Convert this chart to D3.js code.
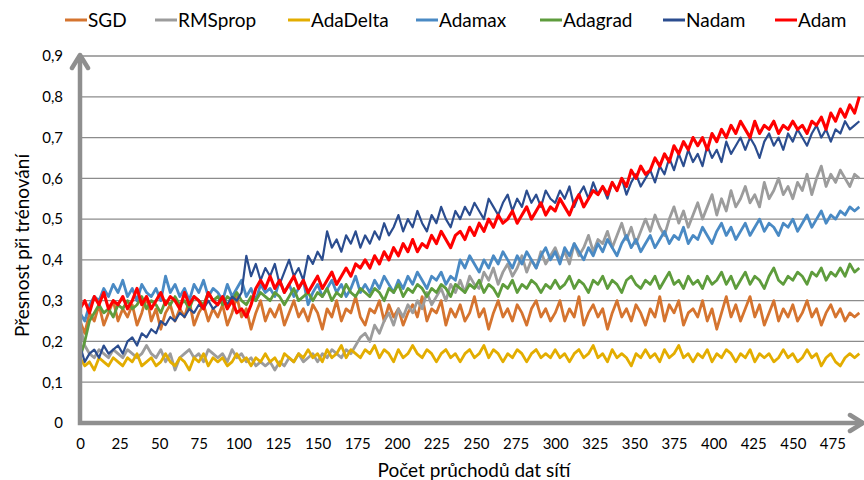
<!DOCTYPE html>
<html>
<head>
<meta charset="utf-8">
<script src="https://cdnjs.cloudflare.com/ajax/libs/d3/7.8.5/d3.min.js"></script>
<style>
  body { margin: 0; background: #fff; }
</style>
</head>
<body>
<div id="chart"></div>
<script>
const WIDTH = 864;
const HEIGHT = 480;
const FONT = "Lato, 'Open Sans', sans-serif";
const STEP = 3; // epochs between two stored values
const AXIS_GREY = "#8f8f8f";

const NAMES = ["SGD", "RMSprop", "AdaDelta", "Adamax", "Adagrad", "Nadam", "Adam"];
const COLORS = ["#d5742f", "#9c9c9c", "#e3ad00", "#4a8ac4", "#5e9c3c", "#2b4d8f", "#ff0000"];
const WIDTHS = [2.8, 2.8, 2.8, 2.8, 2.8, 2.2, 3.1];
const LEGEND_X = [65, 155, 288, 416, 540, 663, 775];

const X_TICKS = [0, 25, 50, 75, 100, 125, 150, 175, 200, 225, 250, 275, 300, 325, 350, 375, 400, 425, 450, 475];
const Y_TICKS = [0, 0.1, 0.2, 0.3, 0.4, 0.5, 0.6, 0.7, 0.8, 0.9];
const Y_LABELS = ["0", "0,1", "0,2", "0,3", "0,4", "0,5", "0,6", "0,7", "0,8", "0,9"];

// accuracy every 3 epochs (0, 3, ... 492)
const SGD = [
  0.25,0.22,0.27,0.25,0.29,0.24,0.27,0.30,0.25,0.28,
  0.26,0.29,0.24,0.27,0.31,0.25,0.28,0.23,0.27,0.29,
  0.25,0.28,0.26,0.30,0.24,0.27,0.29,0.25,0.28,0.26,
  0.29,0.24,0.27,0.31,0.26,0.28,0.23,0.27,0.30,0.25,
  0.28,0.26,0.29,0.24,0.27,0.30,0.26,0.28,0.25,0.29,
  0.27,0.23,0.28,0.26,0.30,0.25,0.28,0.27,0.31,0.26,
  0.24,0.28,0.27,0.30,0.25,0.29,0.26,0.28,0.24,0.27,
  0.29,0.26,0.31,0.25,0.28,0.27,0.30,0.24,0.28,0.26,
  0.29,0.25,0.27,0.31,0.26,0.28,0.23,0.27,0.30,0.26,
  0.28,0.25,0.29,0.27,0.24,0.28,0.30,0.26,0.28,0.25,
  0.27,0.30,0.25,0.28,0.26,0.31,0.24,0.27,0.29,0.26,
  0.28,0.23,0.27,0.30,0.26,0.28,0.25,0.29,0.27,0.24,
  0.28,0.26,0.31,0.25,0.29,0.27,0.30,0.24,0.27,0.28,
  0.26,0.30,0.25,0.28,0.23,0.27,0.31,0.26,0.29,0.25,
  0.28,0.31,0.26,0.29,0.24,0.27,0.30,0.25,0.28,0.26,
  0.29,0.25,0.27,0.30,0.26,0.28,0.24,0.27,0.29,0.26,
  0.28,0.25,0.27,0.26,0.27
];
const RMSPROP = [
  0.24,0.19,0.17,0.16,0.18,0.17,0.16,0.18,0.17,0.16,
  0.18,0.17,0.16,0.17,0.19,0.17,0.16,0.18,0.15,0.17,
  0.13,0.16,0.17,0.18,0.16,0.17,0.15,0.18,0.17,0.16,
  0.17,0.15,0.18,0.16,0.17,0.15,0.16,0.14,0.15,0.14,
  0.15,0.13,0.15,0.14,0.16,0.15,0.17,0.15,0.16,0.17,
  0.15,0.17,0.16,0.18,0.17,0.16,0.18,0.17,0.19,0.21,
  0.22,0.20,0.24,0.22,0.25,0.27,0.24,0.28,0.26,0.29,
  0.27,0.30,0.28,0.32,0.29,0.31,0.33,0.30,0.34,0.32,
  0.35,0.32,0.36,0.34,0.33,0.37,0.35,0.38,0.34,0.37,
  0.39,0.36,0.38,0.41,0.37,0.40,0.38,0.42,0.39,0.41,
  0.43,0.40,0.42,0.39,0.44,0.41,0.43,0.46,0.42,0.45,
  0.44,0.47,0.43,0.46,0.49,0.45,0.48,0.44,0.47,0.50,
  0.47,0.51,0.48,0.46,0.50,0.53,0.49,0.52,0.48,0.51,
  0.54,0.50,0.53,0.56,0.51,0.55,0.52,0.57,0.53,0.55,
  0.58,0.54,0.56,0.53,0.59,0.55,0.57,0.60,0.56,0.58,
  0.55,0.59,0.57,0.61,0.56,0.60,0.63,0.58,0.61,0.59,
  0.62,0.60,0.58,0.61,0.60
];
const ADADELTA = [
  0.16,0.14,0.15,0.13,0.16,0.15,0.14,0.16,0.15,0.14,
  0.16,0.15,0.17,0.14,0.15,0.16,0.14,0.15,0.17,0.15,
  0.14,0.16,0.15,0.13,0.16,0.15,0.17,0.14,0.16,0.15,
  0.16,0.14,0.15,0.17,0.15,0.16,0.14,0.16,0.15,0.17,
  0.15,0.16,0.14,0.17,0.16,0.15,0.17,0.16,0.18,0.16,
  0.17,0.15,0.18,0.16,0.17,0.19,0.16,0.18,0.17,0.16,
  0.18,0.17,0.19,0.16,0.18,0.17,0.15,0.18,0.16,0.17,
  0.19,0.17,0.16,0.18,0.17,0.15,0.17,0.18,0.16,0.17,
  0.15,0.17,0.18,0.16,0.17,0.19,0.16,0.18,0.17,0.15,
  0.17,0.16,0.18,0.17,0.15,0.17,0.18,0.16,0.17,0.16,
  0.18,0.16,0.17,0.15,0.17,0.18,0.16,0.17,0.19,0.16,
  0.17,0.15,0.18,0.16,0.17,0.16,0.14,0.17,0.16,0.18,
  0.16,0.17,0.15,0.18,0.16,0.17,0.19,0.16,0.17,0.15,
  0.17,0.16,0.18,0.15,0.17,0.16,0.18,0.17,0.15,0.17,
  0.16,0.18,0.15,0.17,0.16,0.17,0.15,0.16,0.18,0.16,
  0.17,0.15,0.16,0.18,0.16,0.17,0.14,0.16,0.17,0.15,
  0.14,0.16,0.17,0.16,0.17
];
const ADAMAX = [
  0.27,0.25,0.29,0.31,0.30,0.33,0.31,0.34,0.32,0.35,
  0.31,0.33,0.30,0.34,0.32,0.31,0.33,0.30,0.36,0.32,
  0.34,0.31,0.33,0.30,0.34,0.32,0.35,0.31,0.33,0.32,
  0.30,0.34,0.31,0.33,0.35,0.31,0.33,0.30,0.34,0.32,
  0.33,0.31,0.35,0.32,0.34,0.31,0.33,0.35,0.29,0.32,
  0.34,0.31,0.33,0.35,0.32,0.34,0.31,0.33,0.36,0.32,
  0.34,0.32,0.35,0.33,0.36,0.34,0.32,0.35,0.33,0.36,
  0.34,0.37,0.35,0.33,0.36,0.35,0.37,0.34,0.36,0.35,
  0.40,0.38,0.41,0.39,0.37,0.40,0.38,0.41,0.39,0.42,
  0.40,0.38,0.41,0.39,0.42,0.40,0.38,0.41,0.43,0.40,
  0.42,0.39,0.43,0.41,0.44,0.42,0.40,0.43,0.41,0.44,
  0.42,0.45,0.43,0.41,0.44,0.46,0.43,0.45,0.42,0.44,
  0.46,0.43,0.45,0.47,0.44,0.46,0.45,0.48,0.44,0.46,
  0.45,0.48,0.46,0.44,0.47,0.49,0.46,0.48,0.45,0.47,
  0.49,0.46,0.48,0.50,0.47,0.49,0.48,0.46,0.49,0.48,
  0.50,0.47,0.49,0.51,0.48,0.50,0.52,0.49,0.51,0.50,
  0.52,0.51,0.53,0.52,0.53
];
const ADAGRAD = [
  0.16,0.20,0.25,0.27,0.29,0.27,0.28,0.26,0.29,0.28,
  0.30,0.28,0.29,0.31,0.28,0.30,0.29,0.27,0.30,0.29,
  0.31,0.29,0.30,0.28,0.31,0.30,0.29,0.32,0.30,0.31,
  0.29,0.31,0.30,0.32,0.30,0.29,0.31,0.30,0.32,0.31,
  0.30,0.32,0.31,0.29,0.31,0.33,0.30,0.31,0.32,0.30,
  0.32,0.31,0.33,0.30,0.32,0.31,0.34,0.32,0.31,0.33,
  0.32,0.31,0.33,0.32,0.30,0.33,0.32,0.34,0.31,0.33,
  0.32,0.34,0.33,0.31,0.33,0.32,0.34,0.33,0.31,0.34,
  0.33,0.32,0.34,0.33,0.35,0.32,0.34,0.33,0.31,0.34,
  0.33,0.35,0.32,0.34,0.33,0.35,0.34,0.32,0.34,0.33,
  0.35,0.33,0.34,0.36,0.33,0.35,0.34,0.32,0.35,0.34,
  0.36,0.33,0.35,0.34,0.32,0.35,0.36,0.34,0.33,0.35,
  0.34,0.36,0.33,0.35,0.37,0.34,0.35,0.33,0.36,0.34,
  0.35,0.33,0.36,0.34,0.35,0.37,0.34,0.36,0.33,0.35,
  0.37,0.34,0.36,0.35,0.33,0.36,0.38,0.35,0.34,0.36,
  0.35,0.37,0.36,0.34,0.37,0.36,0.38,0.35,0.37,0.36,
  0.38,0.36,0.39,0.37,0.38
];
const NADAM = [
  0.19,0.15,0.17,0.18,0.16,0.19,0.17,0.18,0.19,0.17,
  0.20,0.21,0.19,0.22,0.21,0.23,0.22,0.25,0.24,0.26,
  0.25,0.27,0.26,0.28,0.27,0.29,0.28,0.30,0.28,0.29,
  0.31,0.29,0.31,0.30,0.32,0.41,0.36,0.39,0.35,0.38,
  0.36,0.39,0.34,0.37,0.40,0.36,0.38,0.35,0.41,0.39,
  0.42,0.40,0.47,0.43,0.45,0.42,0.46,0.44,0.47,0.43,
  0.46,0.44,0.47,0.45,0.49,0.46,0.48,0.51,0.47,0.50,
  0.48,0.52,0.49,0.47,0.51,0.49,0.53,0.50,0.48,0.52,
  0.50,0.53,0.51,0.54,0.52,0.50,0.55,0.53,0.51,0.54,
  0.56,0.52,0.55,0.53,0.57,0.54,0.56,0.53,0.57,0.55,
  0.54,0.57,0.55,0.58,0.53,0.56,0.58,0.55,0.59,0.56,
  0.58,0.55,0.59,0.57,0.60,0.56,0.59,0.61,0.58,0.60,
  0.62,0.59,0.63,0.61,0.65,0.62,0.66,0.63,0.67,0.64,
  0.66,0.63,0.68,0.65,0.67,0.64,0.69,0.66,0.68,0.70,
  0.67,0.70,0.68,0.65,0.69,0.71,0.68,0.70,0.67,0.71,
  0.69,0.72,0.70,0.68,0.71,0.73,0.70,0.72,0.69,0.72,
  0.71,0.74,0.72,0.73,0.74
];
const ADAM = [
  0.28,0.30,0.27,0.31,0.29,0.32,0.28,0.30,0.29,0.31,
  0.28,0.30,0.33,0.29,0.31,0.28,0.30,0.32,0.29,0.31,
  0.30,0.28,0.32,0.29,0.31,0.30,0.28,0.32,0.30,0.29,
  0.31,0.28,0.30,0.27,0.28,0.26,0.29,0.33,0.35,0.33,
  0.36,0.33,0.35,0.32,0.34,0.36,0.33,0.35,0.32,0.34,
  0.36,0.33,0.35,0.37,0.34,0.36,0.38,0.36,0.39,0.38,
  0.40,0.38,0.41,0.39,0.42,0.40,0.43,0.41,0.44,0.42,
  0.45,0.42,0.44,0.43,0.46,0.44,0.47,0.45,0.43,0.46,
  0.47,0.45,0.48,0.46,0.49,0.47,0.50,0.48,0.51,0.49,
  0.50,0.52,0.49,0.51,0.53,0.50,0.52,0.54,0.51,0.53,
  0.52,0.55,0.53,0.51,0.54,0.56,0.53,0.55,0.57,0.56,
  0.58,0.56,0.59,0.57,0.60,0.58,0.62,0.60,0.63,0.61,
  0.62,0.65,0.63,0.66,0.64,0.68,0.66,0.69,0.67,0.70,
  0.68,0.70,0.67,0.71,0.69,0.72,0.70,0.73,0.71,0.74,
  0.72,0.70,0.74,0.71,0.73,0.72,0.74,0.71,0.73,0.72,
  0.74,0.72,0.73,0.71,0.74,0.73,0.75,0.72,0.76,0.74,
  0.77,0.75,0.78,0.76,0.80
];

const SERIES = [SGD, RMSPROP, ADADELTA, ADAMAX, ADAGRAD, NADAM, ADAM];

const svg = d3.select("#chart").append("svg")
  .attr("width", WIDTH)
  .attr("height", HEIGHT)
  .style("font-family", FONT);

const x = d3.scaleLinear().domain([0, 500]).range([80, 872]);
const y = d3.scaleLinear().domain([0, 0.9]).range([423, 56]);

// horizontal gridlines
svg.append("g")
  .selectAll("line")
  .data(Y_TICKS.filter(d => d > 0))
  .join("line")
  .attr("x1", x(0)).attr("x2", WIDTH)
  .attr("y1", d => y(d)).attr("y2", d => y(d))
  .attr("stroke", "#8c8c8c")
  .attr("stroke-width", 1.3);

// y tick labels
svg.append("g")
  .attr("transform", "translate(" + x(0) + ",0)")
  .call(d3.axisLeft(y).tickValues(Y_TICKS).tickFormat((d, i) => Y_LABELS[i]).tickSize(0).tickPadding(17))
  .call(g => g.select(".domain").remove())
  .attr("font-family", FONT)
  .attr("font-size", 15)
  .selectAll("text").attr("fill", "#000");

// x tick labels
svg.append("g")
  .attr("transform", "translate(0," + y(0) + ")")
  .call(d3.axisBottom(x).tickValues(X_TICKS).tickSize(0).tickPadding(15))
  .call(g => g.select(".domain").remove())
  .attr("font-family", FONT)
  .attr("font-size", 15)
  .selectAll("text").attr("fill", "#000");

// series lines
const line = d3.line()
  .x((d, i) => x(i * STEP))
  .y(d => y(d));

svg.append("g")
  .selectAll("path")
  .data(SERIES)
  .join("path")
  .attr("d", line)
  .attr("fill", "none")
  .attr("stroke", (d, i) => COLORS[i])
  .attr("stroke-width", (d, i) => WIDTHS[i])
  .attr("stroke-linejoin", "round");

// axes with arrow heads
const x0 = x(0), yTop = y(0.9) - 1, yBot = y(0), xEnd = 863;
svg.append("path")
  .attr("d", "M" + x0 + "," + yTop + "V" + yBot + "H" + xEnd)
  .attr("fill", "none")
  .attr("stroke", AXIS_GREY)
  .attr("stroke-width", 4.5);
svg.append("path")
  .attr("d", "M" + (x0 - 8) + "," + (yTop + 13) + "L" + x0 + "," + yTop + "L" + (x0 + 8) + "," + (yTop + 13)
    + "M" + (xEnd - 13) + "," + (yBot - 8) + "L" + xEnd + "," + yBot + "L" + (xEnd - 13) + "," + (yBot + 8))
  .attr("fill", "none")
  .attr("stroke", AXIS_GREY)
  .attr("stroke-width", 4.5)
  .attr("stroke-linecap", "round")
  .attr("stroke-linejoin", "round");

// axis titles
svg.append("text")
  .attr("transform", "translate(22," + ((y(0) + y(0.9)) / 2 + 6) + ") rotate(-90)")
  .attr("text-anchor", "middle")
  .attr("dy", "0.35em")
  .attr("font-size", 19)
  .text("Přesnost při trénování");

svg.append("text")
  .attr("x", 474)
  .attr("y", 477)
  .attr("text-anchor", "middle")
  .attr("font-size", 19)
  .text("Počet průchodů dat sítí");

// legend
const legend = svg.append("g").attr("id", "legend");
NAMES.forEach((name, i) => {
  legend.append("line")
    .attr("x1", LEGEND_X[i]).attr("x2", LEGEND_X[i] + 22)
    .attr("y1", 20).attr("y2", 20)
    .attr("stroke", COLORS[i])
    .attr("stroke-width", 3);
  legend.append("text")
    .attr("x", LEGEND_X[i] + 23)
    .attr("y", 20)
    .attr("dy", "0.36em")
    .attr("font-size", 19)
    .text(name);
});
</script>
</body>
</html>
